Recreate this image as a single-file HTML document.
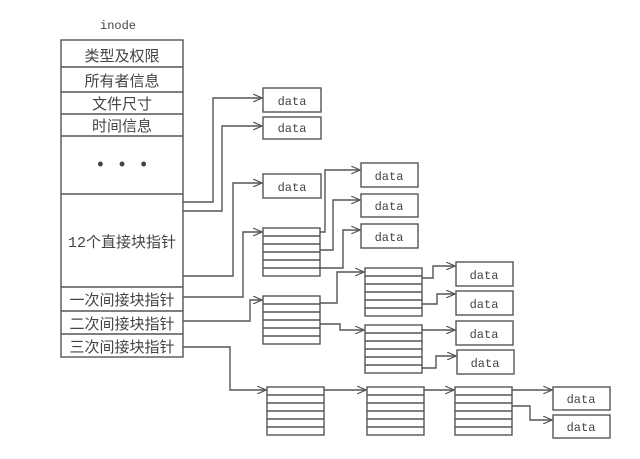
<!DOCTYPE html>
<html><head><meta charset="utf-8"><style>
body{margin:0;background:#fff;}
svg text{font-family:"Liberation Mono","Noto Sans CJK SC",monospace;}
</style></head><body>
<svg width="640" height="454" viewBox="0 0 640 454" xmlns="http://www.w3.org/2000/svg">
<defs><marker id="a" markerWidth="10" markerHeight="8" refX="9" refY="4" orient="auto" markerUnits="userSpaceOnUse"><path d="M0,0 L9,4 L0,8" fill="none" stroke="#555" stroke-width="1.2"/></marker>
<g id="blk" stroke="#555" stroke-width="1.4" fill="none"><rect x="0" y="0" width="57" height="48"/><path d="M0 8H57M0 16H57M0 24H57M0 32H57M0 40H57"/></g>
</defs>
<g stroke="#555" stroke-width="1.4" fill="none">
<rect x="61" y="40" width="122" height="317"/>
<path d="M61 67H183M61 92H183M61 114H183M61 136H183M61 194H183M61 287H183M61 311H183M61 334H183"/>
<rect x="263" y="88" width="58" height="24"/><rect x="263" y="117" width="58" height="22"/><rect x="263" y="174" width="58" height="24"/>
<rect x="361" y="163" width="57" height="24"/><rect x="361" y="194" width="57" height="23"/><rect x="361" y="224" width="57" height="24"/>
<rect x="456" y="262" width="57" height="24"/><rect x="456" y="291" width="57" height="24"/><rect x="456" y="321" width="57" height="24"/><rect x="457" y="350" width="57" height="24"/>
<rect x="553" y="387" width="57" height="23"/><rect x="553" y="415" width="57" height="23"/>
<use href="#blk" x="263" y="228"/><use href="#blk" x="263" y="296"/>
<use href="#blk" x="365" y="268"/><use href="#blk" x="365" y="325"/>
<use href="#blk" x="267" y="387"/><use href="#blk" x="367" y="387"/><use href="#blk" x="455" y="387"/>
<path d="M183 202H213V98H262" marker-end="url(#a)"/>
<path d="M183 211H222V126H262" marker-end="url(#a)"/>
<path d="M183 276H233V183H262" marker-end="url(#a)"/>
<path d="M183 297H243V232H262" marker-end="url(#a)"/>
<path d="M183 321H250V300H262" marker-end="url(#a)"/>
<path d="M183 347H230V390H266" marker-end="url(#a)"/>
<path d="M320 232H325V170H360" marker-end="url(#a)"/>
<path d="M320 250H333V200H360" marker-end="url(#a)"/>
<path d="M320 268H343V230H360" marker-end="url(#a)"/>
<path d="M320 303H337V272H364" marker-end="url(#a)"/>
<path d="M320 324H340V330H364" marker-end="url(#a)"/>
<path d="M422 278H433V266H455" marker-end="url(#a)"/>
<path d="M422 304H437V294H455" marker-end="url(#a)"/>
<path d="M422 330H455" marker-end="url(#a)"/>
<path d="M422 368H436V356H456" marker-end="url(#a)"/>
<path d="M324 390H366" marker-end="url(#a)"/>
<path d="M424 390H454" marker-end="url(#a)"/>
<path d="M512 390H552" marker-end="url(#a)"/>
<path d="M512 406H530V420H552" marker-end="url(#a)"/>
</g>
<g fill="#444" font-size="13">
<text x="100" y="29" font-size="12">inode</text>
<g text-anchor="middle" font-family="'Liberation Sans','Noto Sans CJK SC',sans-serif" font-size="15">
<text x="122" y="61">类型及权限</text>
<text x="122" y="86">所有者信息</text>
<text x="122" y="109">文件尺寸</text>
<text x="122" y="131">时间信息</text>
<text x="122" y="170" font-size="18">• • •</text>
<text x="122" y="247">12个直接块指针</text>
<text x="122" y="305">一次间接块指针</text>
<text x="122" y="329">二次间接块指针</text>
<text x="122" y="352">三次间接块指针</text>
</g>
<g text-anchor="middle" font-size="12">
<text x="292" y="105">data</text><text x="292" y="132">data</text><text x="292" y="191">data</text>
<text x="389" y="180">data</text><text x="389" y="210">data</text><text x="389" y="241">data</text>
<text x="484" y="279">data</text><text x="484" y="308">data</text><text x="484" y="338">data</text><text x="485" y="367">data</text>
<text x="581" y="403">data</text><text x="581" y="431">data</text>
</g>
</g>
</svg>
</body></html>
